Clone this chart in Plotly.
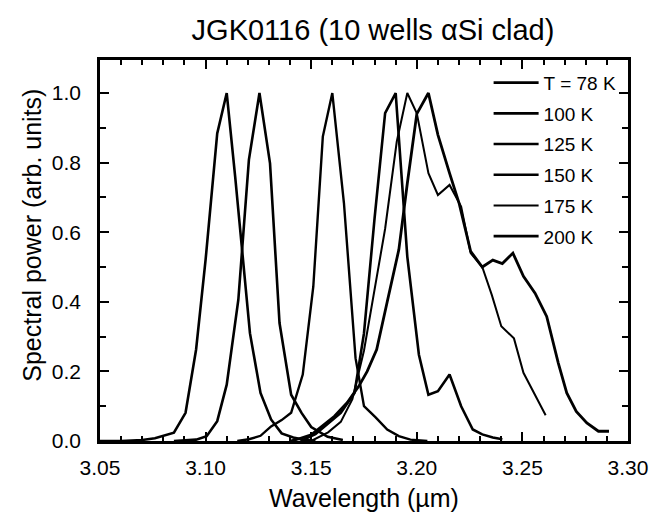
import plotly.graph_objects as go

# Emission spectra of sample JGK0116 at several heat-sink temperatures
wl_78 = [3.050, 3.060, 3.070, 3.076, 3.085, 3.0905, 3.0955, 3.100, 3.1055, 3.110,
         3.114, 3.1175, 3.121, 3.126, 3.131, 3.136, 3.1415, 3.146, 3.152]
pw_78 = [0.0, 0.0, 0.003, 0.008, 0.024, 0.081, 0.263, 0.521, 0.884, 1.0,
         0.76, 0.54, 0.31, 0.138, 0.062, 0.022, 0.01, 0.004, 0.0]

wl_100 = [3.085, 3.0955, 3.1005, 3.1055, 3.110, 3.1155, 3.1205, 3.1255, 3.1305,
          3.135, 3.1405, 3.1455, 3.150, 3.1578, 3.165]
pw_100 = [0.0, 0.004, 0.014, 0.057, 0.162, 0.406, 0.808, 1.0, 0.798,
          0.339, 0.133, 0.08, 0.04, 0.012, 0.003]

wl_125 = [3.115, 3.1205, 3.126, 3.131, 3.136, 3.1405, 3.146, 3.151, 3.1555, 3.160,
          3.1655, 3.171, 3.175, 3.1805, 3.186, 3.1915, 3.197, 3.205]
pw_125 = [0.0, 0.005, 0.015, 0.042, 0.06, 0.081, 0.191, 0.444, 0.875, 1.0,
          0.684, 0.238, 0.10, 0.068, 0.033, 0.014, 0.004, 0.0]

wl_150 = [3.145, 3.152, 3.158, 3.164, 3.1705, 3.175, 3.180, 3.185, 3.190, 3.1955,
          3.201, 3.2055, 3.210, 3.2155, 3.221, 3.2265, 3.231, 3.236, 3.2405]
pw_150 = [0.0, 0.02, 0.05, 0.081, 0.138, 0.31, 0.64, 0.942, 1.0, 0.53,
          0.248, 0.133, 0.143, 0.191, 0.10, 0.033, 0.019, 0.01, 0.005]

wl_175 = [3.150, 3.158, 3.164, 3.1695, 3.175, 3.180, 3.185, 3.1905, 3.1955, 3.200,
          3.2055, 3.210, 3.2155, 3.221, 3.2255, 3.231, 3.2355, 3.240, 3.246, 3.2505,
          3.256, 3.261]
pw_175 = [0.0, 0.025, 0.055, 0.12, 0.26, 0.435, 0.61, 0.86, 1.0, 0.942,
          0.77, 0.707, 0.736, 0.674, 0.54, 0.50, 0.42, 0.33, 0.295, 0.196,
          0.131, 0.074]

wl_200 = [3.140, 3.1435, 3.150, 3.1555, 3.161, 3.167, 3.1725, 3.1765, 3.181, 3.186,
          3.1915, 3.1955, 3.200, 3.2055, 3.210, 3.2155, 3.220, 3.2255, 3.231, 3.236,
          3.2405, 3.2455, 3.2505, 3.256, 3.2615, 3.267, 3.271, 3.2755, 3.2805, 3.286,
          3.291]
pw_200 = [0.0, 0.005, 0.018, 0.045, 0.071, 0.11, 0.157, 0.20, 0.263, 0.40,
          0.55, 0.74, 0.94, 1.0, 0.88, 0.77, 0.684, 0.545, 0.50, 0.52,
          0.51, 0.54, 0.473, 0.425, 0.358, 0.224, 0.138, 0.085, 0.052, 0.028,
          0.028]

series_names = ["T = 78 K", "100 K", "125 K", "150 K", "175 K", "200 K"]
series_wl = [wl_78, wl_100, wl_125, wl_150, wl_175, wl_200]
series_pw = [pw_78, pw_100, pw_125, pw_150, pw_175, pw_200]
series_width = [2.6, 2.6, 2.4, 2.6, 2.0, 2.8]

x_tickvals = [3.05, 3.10, 3.15, 3.20, 3.25, 3.30]
x_ticktext = ["3.05", "3.10", "3.15", "3.20", "3.25", "3.30"]
y_tickvals = [0.0, 0.2, 0.4, 0.6, 0.8, 1.0]
y_ticktext = ["0.0", "0.2", "0.4", "0.6", "0.8", "1.0"]

FONT = "Liberation Sans, Arial, Helvetica, sans-serif"

fig = go.Figure()
for name, wl, pw, w in zip(series_names, series_wl, series_pw, series_width):
    fig.add_trace(go.Scatter(
        x=wl, y=pw, mode="lines", name=name, legendgroup=name,
        line=dict(color="black", width=w),
    ))

axis_common = dict(
    showgrid=False, zeroline=False, showline=True, linecolor="black", linewidth=2.5,
    mirror="allticks", ticks="inside", tickcolor="black", tickwidth=2,
    tickfont=dict(family=FONT, size=21, color="black"),
)

fig.update_xaxes(
    range=[3.05, 3.30], tickmode="array", tickvals=x_tickvals, ticktext=x_ticktext,
    ticklen=9, ticklabelstandoff=6,
    minor=dict(dtick=0.01, tick0=3.05, ticks="inside", ticklen=5, tickcolor="black", tickwidth=2),
    **axis_common,
)
fig.update_yaxes(
    range=[0, 1.095], tickmode="array", tickvals=y_tickvals, ticktext=y_ticktext,
    ticklen=9, ticklabelstandoff=12,
    minor=dict(dtick=0.1, tick0=0, ticks="inside", ticklen=6, tickcolor="black", tickwidth=2),
    **axis_common,
)

fig.update_layout(
    width=660, height=517,
    margin=dict(l=100, r=26, t=60, b=76),
    paper_bgcolor="white", plot_bgcolor="white",
    font=dict(family=FONT, color="black"),
    title=dict(text="JGK0116 (10 wells αSi clad)", x=0.517, xref="paper", xanchor="center",
               y=1 - 30 / 517, yref="container", yanchor="middle",
               font=dict(family=FONT, size=29, color="black")),
    showlegend=True,
    legend=dict(x=0.736, y=0.99, xanchor="left", yanchor="top",
                bgcolor="rgba(0,0,0,0)", borderwidth=0,
                font=dict(family=FONT, size=19, color="black"),
                tracegroupgap=3, itemwidth=45, traceorder="grouped"),
    annotations=[
        dict(text="Wavelength (µm)", xref="paper", yref="paper", x=0.5, y=-0.15,
             xanchor="center", yanchor="middle", showarrow=False,
             font=dict(family=FONT, size=25, color="black")),
        dict(text="Spectral power (arb. units)", xref="paper", yref="paper", x=-0.129, y=0.541,
             xanchor="center", yanchor="middle", textangle=-90, showarrow=False,
             font=dict(family=FONT, size=25, color="black")),
    ],
)

fig.write_html("out.html")
